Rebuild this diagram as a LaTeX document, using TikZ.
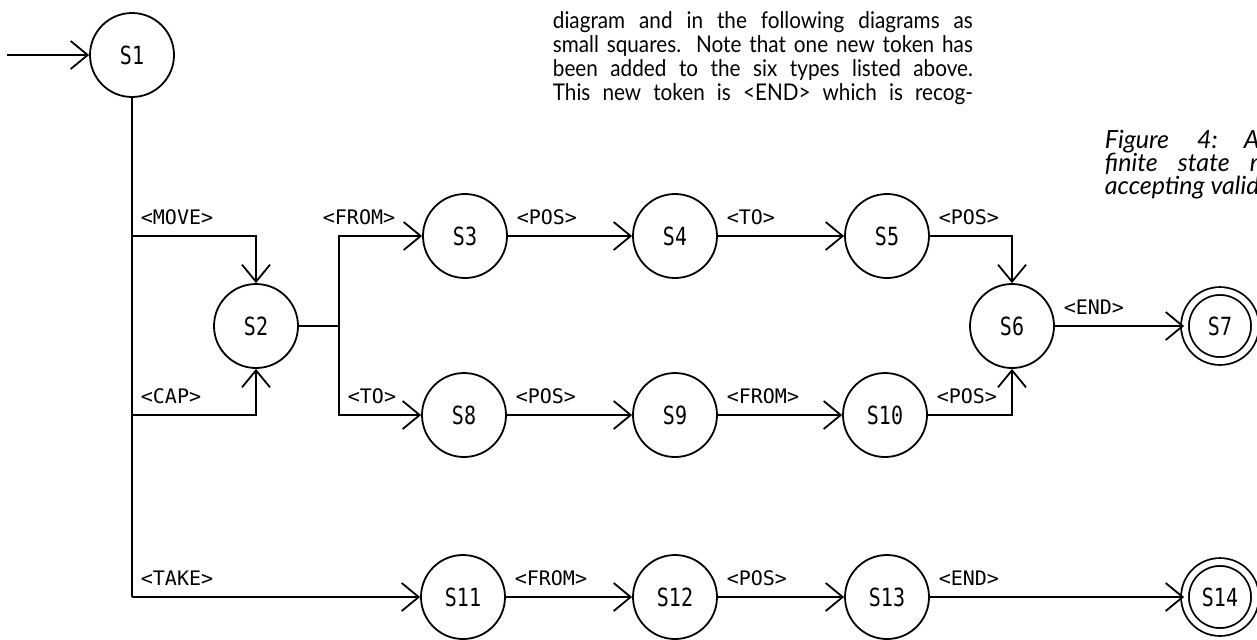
\documentclass[tikz,border=0pt]{standalone}
\usepackage{fontspec}
\setmainfont{Lato}[FakeStretch=0.9]
\newfontfamily\capfont{Lato Italic}
\newfontfamily\plotfont{DejaVu Sans Mono}
\newfontfamily\statefont[FakeStretch=0.8]{DejaVu Sans Mono}
\usetikzlibrary{arrows.meta}
\begin{document}
\begin{tikzpicture}[x=0.5pt,y=-0.5pt,line width=0.9pt,
  >={Straight Barb[length=8.5pt,width=14pt]},
  state/.style={circle,draw,minimum size=42pt,inner sep=0pt,font=\statefont\fontsize{12.5}{14}\selectfont},
  accept/.style={state,minimum size=35pt,double,double distance=3pt},
  tok/.style={anchor=base west,inner sep=0pt,xshift=4pt,yshift=6pt,font=\plotfont\fontsize{10}{11}\selectfont},
  para/.style={anchor=base west,inner sep=0pt,text width=210pt,align=justify,font=\fontsize{11.5}{12}\selectfont},
  capt/.style={anchor=base west,inner sep=0pt,font=\capfont\fontsize{12.5}{12}\selectfont}]
\useasboundingbox (0,0) rectangle (1257,639);
\clip (0,0) rectangle (1257,639);
% text beside the figure
\node[para] (p1) at (552,28) {\noindent diagram and in the following diagrams as\parfillskip=0pt\par};
\node[para] (p2) at (552,52) {\noindent small squares. Note that one new token has\parfillskip=0pt\par};
\node[para] (p3) at (552,76) {\noindent been added to the six types listed above.\parfillskip=0pt\par};
\node[para] (p4) at (552,100) {\noindent This new token is <END> which is recog-\parfillskip=0pt\par};
\node[capt] (c1) at (1104,148) {Figure\hspace{14pt}4:\hspace{13pt}A};
\node[capt] (c2) at (1104,171) {finite\hspace{10pt}state\hspace{10pt}m};
\node[capt] (c3) at (1104,194) {accepting valid};
% states
\node[state] (s1) at (132,55) {S1};
\node[state] (s2) at (256,326) {S2};
\node[state] (s3) at (465,236) {S3};
\node[state] (s4) at (675,236) {S4};
\node[state] (s5) at (887,236) {S5};
\node[state] (s6) at (1012,326) {S6};
\node[accept] (s7) at (1220,326) {S7};
\node[state] (s8) at (464,415) {S8};
\node[state] (s9) at (675,415) {S9};
\node[state] (s10) at (885,415) {S10};
\node[state] (s11) at (463,597) {S11};
\node[state] (s12) at (675,597) {S12};
\node[state] (s13) at (887,597) {S13};
\node[accept] (s14) at (1220,597) {S14};
% branch points
\coordinate (in) at (7,55);
\coordinate (mv) at (132,236);
\coordinate (cp) at (132,415);
\coordinate (tk) at (132,597);
\coordinate (fk) at (339,326);
% transitions
\draw[->] (in) -- (s1);
\draw (s1) -- (tk);
\draw[->] (mv) -| node[tok,at start]{<MOVE>} (s2);
\draw[->] (cp) -| node[tok,at start]{<CAP>} (s2);
\draw[->] (tk) -- node[tok,at start]{<TAKE>} (s11);
\draw (s2) -- (fk);
\draw[->] (fk) |- node[tok,pos=0.5,xshift=-12.5pt]{<FROM>} (s3);
\draw[->] (fk) |- node[tok,pos=0.5]{<TO>} (s8);
\draw[->] (s3) -- node[tok,at start]{<POS>} (s4);
\draw[->] (s4) -- node[tok,at start]{<TO>} (s5);
\draw[->] (s5) -| node[tok,at start]{<POS>} (s6);
\draw[->] (s6) -- node[tok,at start]{<END>} (s7);
\draw[->] (s8) -- node[tok,at start]{<POS>} (s9);
\draw[->] (s9) -- node[tok,at start]{<FROM>} (s10);
\draw[->] (s10) -| node[tok,at start]{<POS>} (s6);
\draw[->] (s11) -- node[tok,at start]{<FROM>} (s12);
\draw[->] (s12) -- node[tok,at start]{<POS>} (s13);
\draw[->] (s13) -- node[tok,at start]{<END>} (s14);
\end{tikzpicture}
\end{document}
